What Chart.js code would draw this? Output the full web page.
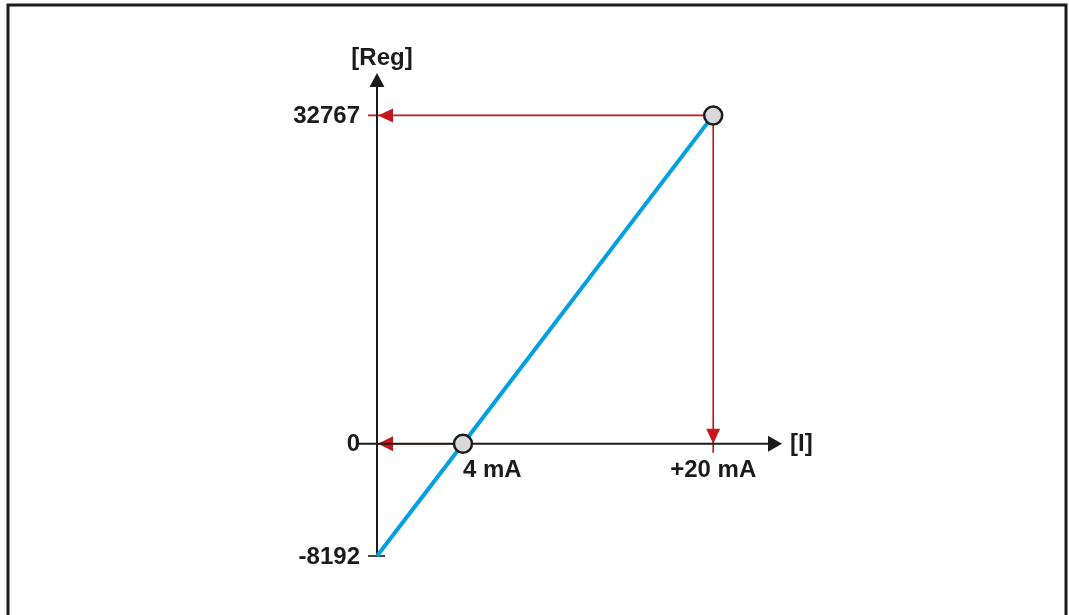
<!DOCTYPE html>
<html>
<head>
<meta charset="utf-8">
<script src="https://cdn.jsdelivr.net/npm/chart.js@4/dist/chart.umd.min.js"></script>
<style>
  html, body { margin: 0; padding: 0; background: #fff; }
  #wrap { width: 1069px; height: 615px; }
</style>
</head>
<body>
<div id="wrap"><canvas id="c" width="1069" height="615"></canvas></div>
<script>
// Analog input scaling: current (mA) -> register value
const currentMA   = [0, 4, 20];
const registerVal = [-8192, 0, 32767];

// Marked points on the characteristic
const markedMA  = [4, 20];
const markedReg = [0, 32767];

// Axis labels
const regTicks       = [-8192, 0, 32767];
const regTickLabels  = ['-8192', '0', '32767'];
const currentTicks   = [4, 20];
const currentLabels  = ['4 mA', '+20 mA'];
const regAxisTitle     = '[Reg]';
const currentAxisTitle = '[I]';

// Linear scale with a break: each segment between knots is mapped linearly
class PiecewiseLinearScale extends Chart.LinearScale {
  _knots() { return [this.options.knots, this.options.knotPos]; }
  getPixelForValue(v) {
    const [k, p] = this._knots();
    let i = 0;
    while (i < k.length - 2 && v > k[i + 1]) i++;
    const f = p[i] + (v - k[i]) / (k[i + 1] - k[i]) * (p[i + 1] - p[i]);
    return this.isHorizontal() ? this.left + f * this.width : this.bottom - f * this.height;
  }
  getValueForPixel(px) {
    const [k, p] = this._knots();
    const f = this.isHorizontal() ? (px - this.left) / this.width : (this.bottom - px) / this.height;
    let i = 0;
    while (i < p.length - 2 && f > p[i + 1]) i++;
    return k[i] + (f - p[i]) / (p[i + 1] - p[i]) * (k[i + 1] - k[i]);
  }
}
PiecewiseLinearScale.id = 'piecewise';
PiecewiseLinearScale.defaults = Chart.LinearScale.defaults;
Chart.register(PiecewiseLinearScale);

const INK = '#1b1b1b';
const RED = '#c4161c';
const BLUE = '#00a0e2';
const FONT = 'bold 24px "Liberation Sans", Arial, sans-serif';

function arrowHead(ctx, tx, ty, dir, len, half, color) {
  ctx.save();
  ctx.fillStyle = color;
  ctx.beginPath();
  ctx.moveTo(tx, ty);
  if (dir === 'left')  { ctx.lineTo(tx + len, ty - half); ctx.lineTo(tx + len, ty + half); }
  if (dir === 'right') { ctx.lineTo(tx - len, ty - half); ctx.lineTo(tx - len, ty + half); }
  if (dir === 'up')    { ctx.lineTo(tx - half, ty + len); ctx.lineTo(tx + half, ty + len); }
  if (dir === 'down')  { ctx.lineTo(tx - half, ty - len); ctx.lineTo(tx + half, ty - len); }
  ctx.closePath();
  ctx.fill();
  ctx.restore();
}

function line(ctx, x1, y1, x2, y2, color, w) {
  ctx.save();
  ctx.strokeStyle = color;
  ctx.lineWidth = w;
  ctx.beginPath();
  ctx.moveTo(x1, y1);
  ctx.lineTo(x2, y2);
  ctx.stroke();
  ctx.restore();
}

const diagramPlugin = {
  id: 'diagram',
  beforeDraw(chart) {
    const ctx = chart.ctx;
    ctx.save();
    ctx.fillStyle = '#fff';
    ctx.fillRect(0, 0, chart.width, chart.height);
    ctx.strokeStyle = INK;
    ctx.lineWidth = 3;
    ctx.strokeRect(8, 5, 1058, 700);
    ctx.restore();
  },
  beforeDatasetsDraw(chart) {
    const ctx = chart.ctx;
    const xs = chart.scales.x, ys = chart.scales.y;
    const ca = chart.chartArea;
    const x0 = ca.left, y0 = ys.getPixelForValue(0);
    const yMin = ys.getPixelForValue(regTicks[0]);

    // guide lines from the marked points to the axes
    const px20 = xs.getPixelForValue(markedMA[1]);
    const py20 = ys.getPixelForValue(markedReg[1]);
    const px4 = xs.getPixelForValue(markedMA[0]);
    line(ctx, px20, py20, x0 - 9, py20, RED, 1.6);
    arrowHead(ctx, x0 + 1, py20, 'left', 15, 7, RED);
    line(ctx, px20, py20, px20, y0 + 9, RED, 1.6);
    arrowHead(ctx, px20, y0, 'down', 15, 7, RED);
    line(ctx, px4, y0, x0, y0, RED, 1.6);
    arrowHead(ctx, x0 + 1, y0, 'left', 15, 7.5, RED);

    // axes
    line(ctx, x0, yMin, x0, ca.top + 13, INK, 2);
    arrowHead(ctx, x0, ca.top, 'up', 14, 7.5, INK);
    line(ctx, x0 - 18, y0, ca.right - 13, y0, INK, 2);
    arrowHead(ctx, ca.right, y0, 'right', 14, 8, INK);
    line(ctx, x0 - 9, yMin, x0 + 8, yMin, INK, 1.6);
  },
  afterDatasetsDraw(chart) {
    const ctx = chart.ctx;
    const xs = chart.scales.x, ys = chart.scales.y;
    const ca = chart.chartArea;
    const x0 = ca.left, y0 = ys.getPixelForValue(0);
    ctx.save();
    ctx.font = FONT;
    ctx.fillStyle = INK;
    ctx.textBaseline = 'middle';
    ctx.textAlign = 'right';
    regTicks.forEach((v, i) => ctx.fillText(regTickLabels[i], x0 - 17, ys.getPixelForValue(v) + 1));
    ctx.textAlign = 'left';
    ctx.fillText(currentLabels[0], xs.getPixelForValue(currentTicks[0]), y0 + 27);
    ctx.textAlign = 'center';
    ctx.fillText(currentLabels[1], xs.getPixelForValue(currentTicks[1]), y0 + 27);
    ctx.fillText(regAxisTitle, x0 + 5, ca.top - 15);
    ctx.textAlign = 'left';
    ctx.fillText(currentAxisTitle, ca.right + 8, y0 + 1);
    ctx.restore();
  }
};

new Chart(document.getElementById('c'), {
  type: 'line',
  data: {
    datasets: [
      {
        label: 'Points',
        data: markedMA.map((x, i) => ({ x, y: markedReg[i] })),
        showLine: false,
        pointRadius: 9,
        pointBackgroundColor: '#d9d9d9',
        pointBorderColor: INK,
        pointBorderWidth: 2.5,
        clip: false,
        order: 0
      },
      {
        label: 'Characteristic',
        data: currentMA.map((x, i) => ({ x, y: registerVal[i] })),
        borderColor: BLUE,
        borderWidth: 4,
        pointRadius: 0,
        tension: 0,
        fill: false,
        clip: false,
        order: 1
      }
    ]
  },
  options: {
    responsive: false,
    animation: false,
    events: [],
    layout: { padding: { left: 377, right: 287, top: 73, bottom: 59 } },
    plugins: { legend: { display: false }, tooltip: { enabled: false } },
    scales: {
      x: {
        type: 'piecewise', display: false, min: 0, max: 24.4,
        knots: [0, 4, 24.4], knotPos: [0, 0.2123, 1]
      },
      y: {
        type: 'piecewise', display: false, min: -8192, max: 37000,
        knots: [-8192, 0, 37000], knotPos: [0, 0.2325, 1]
      }
    }
  },
  plugins: [diagramPlugin]
});
</script>
</body>
</html>
